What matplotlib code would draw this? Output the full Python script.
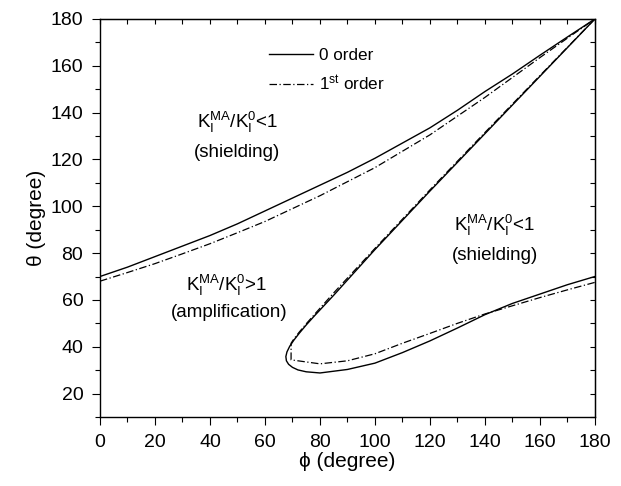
import matplotlib
matplotlib.use("Agg")
import matplotlib.pyplot as plt

plt.rcParams["font.family"] = ["Liberation Sans", "DejaVu Sans"]
plt.rcParams["mathtext.fontset"] = "custom"
plt.rcParams["mathtext.rm"] = "Liberation Sans"
plt.rcParams["mathtext.it"] = "Liberation Sans:italic"

# outer boundary (upper curve)
outer_phi = [0, 10, 20, 30, 40, 50, 60, 70, 80, 90, 100, 110, 120, 130, 140, 150, 160, 170, 180]
outer_zero = [70, 74, 78.5, 83, 87.5, 92.5, 98, 103.5, 109, 114.5, 120.5, 127, 133.5, 141,
              149, 156.5, 164.5, 172.3, 180]
outer_first = [68, 71.7, 75.5, 79.7, 84, 88.7, 93.5, 99, 104.5, 110.5, 116.5, 123.5, 130.5, 138.5,
               146.5, 155, 163.5, 171.8, 180]

# inner loop, 0 order
inner_phi_zero = [180, 160, 140, 120, 100, 85, 78, 75, 72.5, 70.5, 69, 68, 67.6, 67.8, 68.6, 70,
                  72, 75, 80, 90, 100, 110, 120, 130, 140, 150, 160, 170, 180]
inner_theta_zero = [180, 155.5, 131, 106.5, 81.5, 62, 53.2, 49.3, 45.8, 42.8, 40.2, 37.8, 35.8, 34, 32.5, 31.2,
                    30.1, 29.3, 28.8, 30.3, 33, 37.5, 42.5, 48, 53.7, 58.5, 62.5, 66.5, 70]

# inner loop, 1st order
inner_phi_first = [180, 160, 140, 120, 100, 85, 78, 75, 72.5, 70.5, 69.5, 69.5, 80, 90, 100, 110,
                   120, 130, 140, 150, 160, 170, 180]
inner_theta_first = [180, 155.8, 131.5, 107, 82, 63, 53.8, 49.8, 46.3, 43.3, 41.5, 34.4, 32.7, 34, 37, 41.5,
                     45.7, 50, 54, 57.5, 61, 64.3, 67.5]

fig = plt.figure(figsize=(6.21, 4.86), dpi=100)
ax = fig.add_axes([0.161, 0.142, 0.797, 0.819])

ax.plot(outer_phi, outer_zero, color="black", lw=1.0, label="0 order")
ax.plot(outer_phi, outer_first, color="black", lw=0.9, ls=(0, (6, 2, 1, 2)),
        label=r"1$^{\mathregular{st}}$ order")
ax.plot(inner_phi_zero, inner_theta_zero, color="black", lw=1.0)
ax.plot(inner_phi_first, inner_theta_first, color="black", lw=0.9, ls=(0, (6, 2, 1, 2)))

ax.set_xlim(0, 180)
ax.set_ylim(10, 180)
ax.set_xticks(range(0, 181, 20))
ax.set_yticks(range(20, 181, 20))
ax.set_xticks(range(10, 180, 20), minor=True)
ax.set_yticks(range(10, 180, 20), minor=True)
ax.tick_params(which="both", direction="out", labelsize=14, width=0.8, pad=6)
ax.tick_params(which="major", length=6)
ax.tick_params(which="minor", length=3.5)
ax.set_xlabel("\u03d5 (degree)", fontsize=15, labelpad=1)
ax.set_ylabel("\u03b8 (degree)", fontsize=15, labelpad=3)
for side in ax.spines.values():
    side.set_linewidth(1.0)

# inward ticks on top and right
top = ax.secondary_xaxis("top")
top.set_xticks(range(0, 181, 10))
top.tick_params(direction="in", length=3.5, labeltop=False, width=0.8)
right = ax.secondary_yaxis("right")
right.set_yticks(range(10, 181, 10))
right.tick_params(direction="in", length=3.5, labelright=False, width=0.8)

ratio_lt = r"$\mathregular{K_I^{MA}/K_I^0}$<1"
ratio_gt = r"$\mathregular{K_I^{MA}/K_I^0}$>1"
ax.text(50, 136, ratio_lt, ha="center", va="center", fontsize=13.5)
ax.text(50, 123, "(shielding)", ha="center", va="center", fontsize=13.5)
ax.text(46, 66, ratio_gt, ha="center", va="center", fontsize=13.5)
ax.text(47, 54.7, "(amplification)", ha="center", va="center", fontsize=13.5)
ax.text(143.5, 92, ratio_lt, ha="center", va="center", fontsize=13.5)
ax.text(143.5, 79, "(shielding)", ha="center", va="center", fontsize=13.5)

ax.legend(loc="upper left", bbox_to_anchor=(0.31, 0.965), frameon=False, fontsize=12.3,
          handlelength=2.6, handletextpad=0.35, labelspacing=0.6)

fig.savefig("out.png", dpi=100)
